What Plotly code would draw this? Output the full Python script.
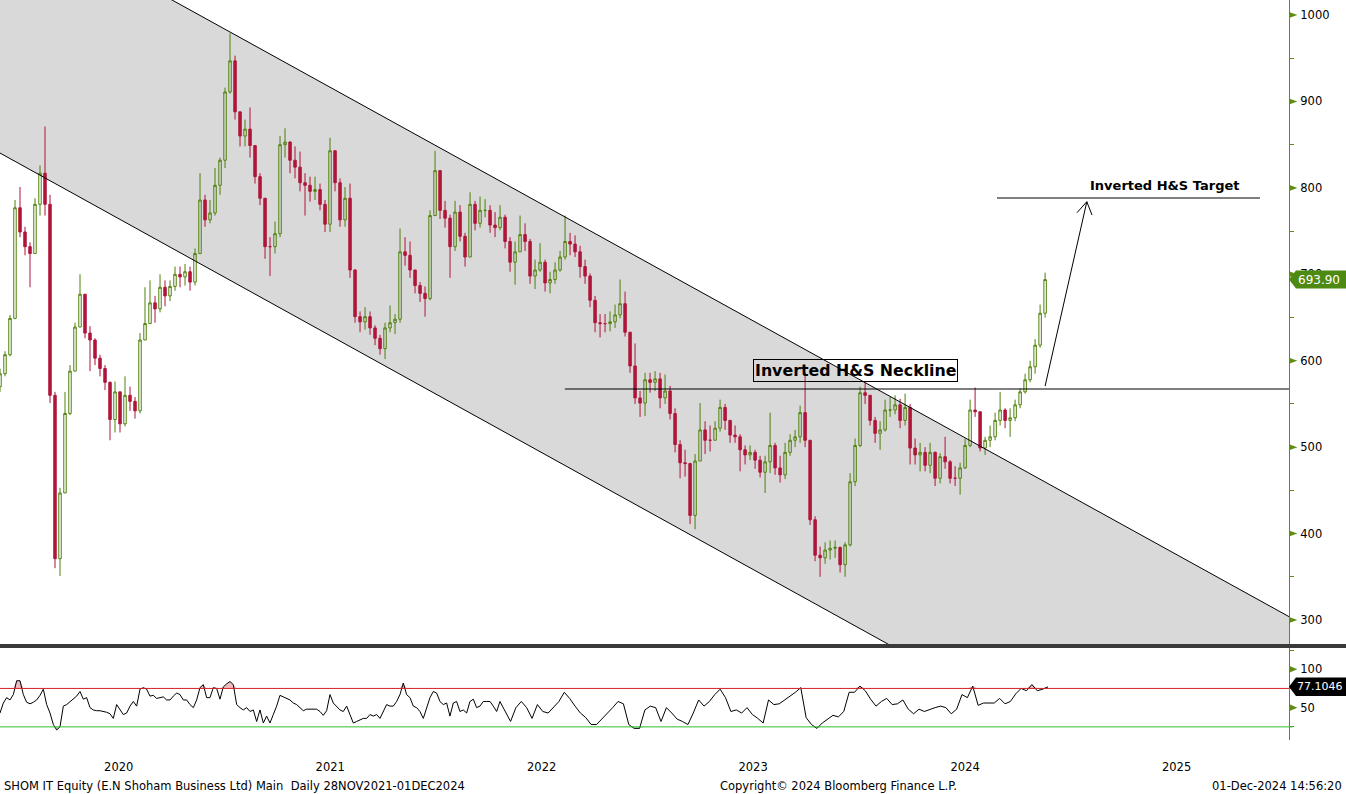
import pandas as pd
import plotly.graph_objects as go

# ---------------- data ----------------
close = [585, 607, 649, 777, 749, 732, 724, 781, 817, 781,
         560, 371, 447, 539, 588, 639, 677, 632, 624, 603,
         591, 575, 532, 564, 527, 560, 553, 542, 624, 643,
         667, 660, 685, 675, 686, 700, 697, 703, 691, 724,
         786, 763, 771, 803, 832, 911, 947, 888, 860, 868,
         849, 813, 788, 732, 732, 747, 850, 853, 832, 824,
         806, 803, 796, 798, 781, 758, 843, 806, 763, 788,
         705, 651, 645, 651, 638, 626, 614, 638, 644, 648,
         726, 722, 705, 687, 678, 672, 768, 820, 774, 765,
         732, 772, 744, 720, 781, 759, 774, 774, 757, 754,
         766, 738, 714, 726, 746, 738, 698, 705, 714, 690,
         694, 705, 720, 738, 735, 726, 709, 698, 670, 644,
         643, 643, 645, 653, 666, 633, 594, 557, 551, 578,
         575, 579, 557, 565, 539, 503, 482, 481, 421, 484,
         520, 508, 508, 522, 546, 531, 514, 512, 497, 491,
         494, 485, 471, 483, 502, 476, 468, 494, 508, 512,
         540, 508, 416, 375, 372, 381, 383, 384, 364, 387,
         460, 502, 563, 560, 531, 516, 520, 543, 543, 549,
         531, 546, 499, 491, 494, 479, 494, 464, 489, 483,
         464, 464, 476, 502, 543, 541, 499, 508, 512, 531,
         543, 531, 534, 549, 564, 578, 593, 618, 655, 693.9]
high = [591, 611, 653, 786, 801, 755, 737, 788, 826, 871,
        792, 564, 453, 564, 595, 644, 700, 677, 640, 626,
        607, 595, 576, 576, 564, 582, 570, 558, 632, 685,
        693, 675, 700, 693, 693, 709, 709, 712, 709, 730,
        817, 792, 786, 823, 835, 916, 979, 953, 885, 879,
        893, 842, 817, 786, 743, 761, 860, 869, 854, 848,
        842, 817, 813, 813, 805, 786, 858, 842, 811, 801,
        805, 706, 657, 662, 657, 641, 630, 644, 664, 654,
        753, 743, 738, 703, 691, 686, 774, 843, 811, 785,
        769, 785, 780, 748, 795, 785, 790, 787, 780, 772,
        780, 769, 743, 738, 768, 759, 741, 717, 736, 717,
        703, 714, 727, 768, 748, 745, 733, 717, 701, 675,
        654, 654, 657, 665, 694, 680, 628, 620, 565, 586,
        586, 588, 586, 584, 571, 545, 508, 497, 482, 492,
        551, 530, 525, 530, 555, 550, 530, 525, 515, 502,
        502, 497, 490, 490, 540, 505, 490, 505, 515, 520,
        548, 586, 505, 420, 385, 390, 392, 392, 385, 390,
        470, 510, 570, 575, 560, 535, 530, 555, 558, 560,
        556, 562, 550, 510, 505, 500, 505, 495, 493, 512,
        485, 478, 482, 510, 555, 569, 540, 512, 525, 540,
        564, 545, 545, 555, 568, 585, 600, 625, 665, 702]
low = [564, 582, 605, 648, 743, 722, 685, 727, 768, 768,
       551, 360, 351, 447, 537, 601, 640, 626, 588, 595,
       582, 566, 508, 517, 517, 524, 542, 533, 539, 632,
       653, 644, 656, 663, 669, 681, 685, 687, 681, 687,
       724, 755, 759, 768, 792, 823, 909, 879, 848, 848,
       835, 805, 780, 718, 698, 724, 743, 835, 817, 811,
       796, 768, 784, 786, 774, 749, 749, 796, 755, 755,
       696, 644, 633, 636, 630, 618, 607, 602, 633, 631,
       644, 710, 696, 678, 668, 651, 670, 774, 764, 754,
       696, 727, 738, 709, 720, 751, 754, 766, 748, 743,
       751, 730, 703, 688, 727, 727, 689, 683, 703, 680,
       678, 689, 703, 717, 722, 720, 696, 689, 662, 633,
       627, 633, 634, 638, 649, 628, 586, 550, 535, 536,
       563, 565, 545, 550, 532, 494, 464, 466, 411, 405,
       505, 492, 495, 508, 518, 520, 505, 505, 472, 480,
       485, 475, 465, 447, 470, 468, 459, 463, 490, 500,
       505, 500, 410, 368, 350, 365, 370, 372, 355, 350,
       385, 455, 500, 550, 525, 505, 497, 518, 535, 538,
       522, 525, 480, 480, 472, 472, 470, 455, 458, 475,
       458, 455, 445, 475, 500, 535, 495, 491, 500, 508,
       525, 522, 512, 530, 545, 562, 575, 585, 615, 650]
first_open = 570
last_price = 693.90

rsi_a = [43, 56, 63, 60, 67, 85, 85, 67, 57, 55, 57, 60, 66, 74, 54, 43, 28, 21, 25, 52,
         54, 58, 61, 65, 71, 61, 63, 50, 47, 46, 46, 45, 44, 42, 36, 54, 47, 41, 43, 52,
         58, 52, 74, 76, 74, 65, 66, 62, 63, 64, 60, 60, 65, 69, 67, 60, 60, 54, 50, 60,
         76, 80, 63, 63, 76, 75, 61, 77, 81, 84, 80, 54, 50, 47, 50, 45, 47, 32, 47, 30,
         39, 30, 41, 52, 66, 64, 62, 60, 56, 54, 50, 46, 48, 48, 48, 48, 45, 40, 46, 67,
         56, 52, 47, 45, 52, 41, 30, 32, 34, 36, 36, 41, 39, 41, 36, 45, 54, 52, 52, 58,
         67, 82, 67, 63, 52, 50, 45, 36, 50, 63, 71, 69, 58, 54, 56, 39, 56, 58, 45, 47,
         43, 58, 61, 50, 52, 58, 58, 58, 52, 45, 58]
rsi_b = [45, 32, 50, 58, 50, 36, 54, 45, 43, 50, 58, 70, 62, 52, 43, 37, 28, 28, 35, 42,
         50, 58, 55, 28, 23, 23, 47, 52, 50, 32, 50, 43, 35, 32, 28, 43, 60, 52, 58, 67,
         74, 63, 45, 47, 43, 50, 41, 36, 30, 60, 54, 55, 60, 64, 70, 76, 37, 28, 23, 30,
         35, 40, 38, 45, 70, 70, 78, 72, 61, 52, 58, 62, 54, 55, 60, 48, 42, 48, 45, 48,
         50, 52, 50, 42, 48, 67, 63, 78, 53, 56, 56, 56, 62, 55, 58, 68, 75, 72, 80, 72,
         74, 77.1046]
rsi_upper_level = 75
rsi_lower_level = 25

year_labels = ["2020", "2021", "2022", "2023", "2024", "2025"]
year_label_dates = ["2020-07-01", "2021-07-01", "2022-07-01", "2023-07-01", "2024-07-01", "2025-07-01"]

price_ticks = [300, 350, 400, 450, 500, 550, 600, 650, 700, 750, 800, 850, 900, 950, 1000]
rsi_ticks = [25, 50, 75, 100, 125]

# channel / pattern levels (data coordinates)
x_start, x_end = "2019-12-09", "2026-01-11"
chan_upper = [1127.3, 303.9]
chan_lower = [840.3, 15.6]
neckline = 567.3
neck_x = ["2022-08-10", x_end]
target = 788.3
target_x = ["2024-08-25", "2025-11-22"]

# ---------------- derived ----------------
bar_dates = pd.date_range("2019-12-09", "2024-11-16", periods=len(close))
opens = [first_open] + close[:-1]
high = [max(h, o, c) for h, o, c in zip(high, opens, close)]
low = [min(l, o, c) for l, o, c in zip(low, opens, close)]
rsi_dates = list(pd.date_range("2019-12-09", "2022-04-20", periods=len(rsi_a))) + \
            list(pd.date_range("2022-04-29", "2024-11-21", periods=len(rsi_b)))
rsi = rsi_a + rsi_b

GREEN = "#4E800A"
RED = "#B0153A"
AXG = "#5E8C14"
FONT = "DejaVu Sans"

fig = go.Figure()

fig.add_trace(go.Candlestick(x=bar_dates, open=opens, high=high, low=low, close=close,
                             increasing=dict(line=dict(color=GREEN, width=1), fillcolor="rgba(0,0,0,0)"),
                             decreasing=dict(line=dict(color=RED, width=1), fillcolor=RED),
                             whiskerwidth=0, xaxis="x", yaxis="y"))

# channel lines
fig.add_trace(go.Scatter(x=[x_start, x_end], y=chan_upper, mode="lines",
                         line=dict(color="black", width=1), xaxis="x", yaxis="y"))
fig.add_trace(go.Scatter(x=[x_start, x_end], y=chan_lower, mode="lines",
                         line=dict(color="black", width=1), xaxis="x", yaxis="y"))
# neckline & target
fig.add_trace(go.Scatter(x=neck_x, y=[neckline, neckline], mode="lines",
                         line=dict(color="black", width=1), xaxis="x", yaxis="y"))
fig.add_trace(go.Scatter(x=target_x, y=[target, target], mode="lines",
                         line=dict(color="black", width=1), xaxis="x", yaxis="y"))
# arrow
fig.add_trace(go.Scatter(x=["2024-11-16", "2025-01-27"], y=[570.7, 784.0], mode="lines",
                         line=dict(color="black", width=1), xaxis="x", yaxis="y"))
fig.add_trace(go.Scatter(x=["2025-01-10", "2025-01-27", "2025-02-05"], y=[771.3, 784.0, 768.6],
                         mode="lines", line=dict(color="black", width=1), xaxis="x", yaxis="y"))

# RSI panel
fig.add_trace(go.Scatter(x=rsi_dates, y=[rsi_upper_level] * len(rsi), mode="lines",
                         line=dict(width=0), hoverinfo="skip", xaxis="x2", yaxis="y2"))
fig.add_trace(go.Scatter(x=rsi_dates, y=[max(v, rsi_upper_level) for v in rsi], mode="lines",
                         line=dict(width=0), fill="tonexty", fillcolor="rgba(232,170,178,0.8)",
                         hoverinfo="skip", xaxis="x2", yaxis="y2"))
fig.add_trace(go.Scatter(x=rsi_dates, y=[rsi_lower_level] * len(rsi), mode="lines",
                         line=dict(width=0), hoverinfo="skip", xaxis="x2", yaxis="y2"))
fig.add_trace(go.Scatter(x=rsi_dates, y=[min(v, rsi_lower_level) for v in rsi], mode="lines",
                         line=dict(width=0), fill="tonexty", fillcolor="rgba(170,225,170,0.8)",
                         hoverinfo="skip", xaxis="x2", yaxis="y2"))
fig.add_trace(go.Scatter(x=rsi_dates, y=rsi, mode="lines", line=dict(color="black", width=1),
                         xaxis="x2", yaxis="y2"))

shapes = []
# channel fill (below the candles)
shapes.append(dict(type="path", xref="x", yref="y", layer="below",
                   path=f"M {x_start},{chan_upper[0]} L {x_end},{chan_upper[1]} "
                        f"L {x_end},{chan_lower[1]} L {x_start},{chan_lower[0]} Z",
                   fillcolor="#D9D9D9", line=dict(width=0)))
# overbought / oversold lines
shapes.append(dict(type="line", xref="paper", x0=0, x1=1, yref="y2", y0=rsi_upper_level,
                   y1=rsi_upper_level, line=dict(color="#D42020", width=1)))
shapes.append(dict(type="line", xref="paper", x0=0, x1=1.003, yref="y2", y0=rsi_lower_level,
                   y1=rsi_lower_level, line=dict(color="#2EC02E", width=1)))
# panel separator
shapes.append(dict(type="rect", xref="paper", x0=0, x1=1346 / 1289, yref="paper",
                   y0=(740 - 648) / 740, y1=(740 - 644) / 740, fillcolor="#3A3A3A",
                   line=dict(width=0), layer="above"))
# tick triangles on price axis
for v in price_ticks:
    if v % 100 == 0:
        shapes.append(dict(type="path", xref="paper", yref="y", layer="above",
                           path=f"M 1.0,{v + 3.5} L 1.0065,{v} L 1.0,{v - 3.5} Z",
                           fillcolor=AXG, line=dict(width=0)))
for v in (50, 100):
    shapes.append(dict(type="path", xref="paper", yref="y2", layer="above",
                       path=f"M 1.0,{v + 4.6} L 1.0065,{v} L 1.0,{v - 4.6} Z",
                       fillcolor=AXG, line=dict(width=0)))
# last price tag
shapes.append(dict(type="path", xref="paper", yref="y", layer="above",
                   path=f"M 1.0,{last_price} L 1.0054,{last_price + 10.4} L 1.045,{last_price + 10.4} "
                        f"L 1.045,{last_price - 10.4} L 1.0054,{last_price - 10.4} Z",
                   fillcolor="#4E8A12", line=dict(width=0)))
last_rsi = rsi[-1]
shapes.append(dict(type="path", xref="paper", yref="y2", layer="above",
                   path=f"M 1.0,{last_rsi} L 1.0054,{last_rsi + 12} L 1.045,{last_rsi + 12} "
                        f"L 1.045,{last_rsi - 12} L 1.0054,{last_rsi - 12} Z",
                   fillcolor="black", line=dict(width=0)))

annotations = [
    dict(xref="paper", x=1.0058, xanchor="left", yref="y", y=last_price, text=f"{last_price:.2f}",
         showarrow=False, font=dict(family=FONT, size=12, color="white")),
    dict(xref="paper", x=1.0052, xanchor="left", yref="y2", y=last_rsi, text=f"{last_rsi:.4f}",
         showarrow=False, borderpad=0, font=dict(family=FONT, size=11, color="white")),
    dict(xref="x", x="2023-12-24", yref="y", y=588.7, text="<b>Inverted H&S Neckline</b>",
         showarrow=False, bordercolor="black", borderwidth=1, borderpad=1,
         font=dict(family=FONT, size=15.8, color="black")),
    dict(xref="x", x="2025-06-10", yref="y", y=802.2, text="<b>Inverted H&S Target</b>",
         showarrow=False, font=dict(family=FONT, size=13, color="black")),
    dict(xref="paper", x=0.0015, xanchor="left", yref="paper", y=(740 - 786) / 740, yanchor="middle",
         text="SHOM IT Equity (E.N Shoham Business Ltd) Main  Daily 28NOV2021-01DEC2024",
         showarrow=False, font=dict(family=FONT, size=11.5, color="black")),
    dict(xref="paper", x=838 / 1289, xanchor="center", yref="paper", y=(740 - 786) / 740, yanchor="middle",
         text="Copyright© 2024 Bloomberg Finance L.P.",
         showarrow=False, font=dict(family=FONT, size=11.5, color="black")),
    dict(xref="paper", x=1344 / 1289, xanchor="right", yref="paper", y=(740 - 786) / 740, yanchor="middle",
         text="01-Dec-2024 14:56:20",
         showarrow=False, font=dict(family=FONT, size=11.5, color="black")),
]

price_ticktext = [str(v) if v % 100 == 0 else "" for v in price_ticks]
rsi_ticktext = [str(v) if v in (50, 100) else "" for v in rsi_ticks]

fig.update_layout(
    width=1346, height=794,
    margin=dict(l=0, r=57, t=0, b=54),
    paper_bgcolor="white", plot_bgcolor="white",
    showlegend=False,
    boxgap=0.3,
    font=dict(family=FONT, size=11, color="black"),
    xaxis=dict(domain=[0, 1], anchor="y", range=[x_start, x_end], showgrid=False, zeroline=False,
               showticklabels=False, showline=False, ticks="", rangeslider=dict(visible=False)),
    yaxis=dict(domain=[(740 - 645) / 740, 1], anchor="x", side="right", range=[271.1, 1017.4],
               showgrid=False, zeroline=False, showline=True, linecolor=AXG, linewidth=1,
               ticks="outside", ticklen=4, tickcolor=AXG, tickwidth=1,
               tickvals=price_ticks, ticktext=price_ticktext, ticklabelstandoff=4,
               tickfont=dict(family=FONT, size=11.5, color="black")),
    xaxis2=dict(domain=[0, 1], anchor="y2", matches="x", range=[x_start, x_end], showgrid=False,
                zeroline=False, showline=False, ticks="outside", ticklen=16,
                tickcolor="rgba(0,0,0,0)", tickvals=year_label_dates, ticktext=year_labels,
                tickfont=dict(family=FONT, size=11.5, color="black")),
    yaxis2=dict(domain=[0, (740 - 648) / 740], anchor="x2", side="right", range=[7.9, 127.6],
                showgrid=False, zeroline=False, showline=True, linecolor=AXG, linewidth=1,
                ticks="outside", ticklen=4, tickcolor=AXG, tickwidth=1,
                tickvals=rsi_ticks, ticktext=rsi_ticktext, ticklabelstandoff=4,
                tickfont=dict(family=FONT, size=11.5, color="black")),
    shapes=shapes,
    annotations=annotations,
)

fig.write_html("out.html", config={"displayModeBar": False},
               post_script="document.body.style.margin='0';")
